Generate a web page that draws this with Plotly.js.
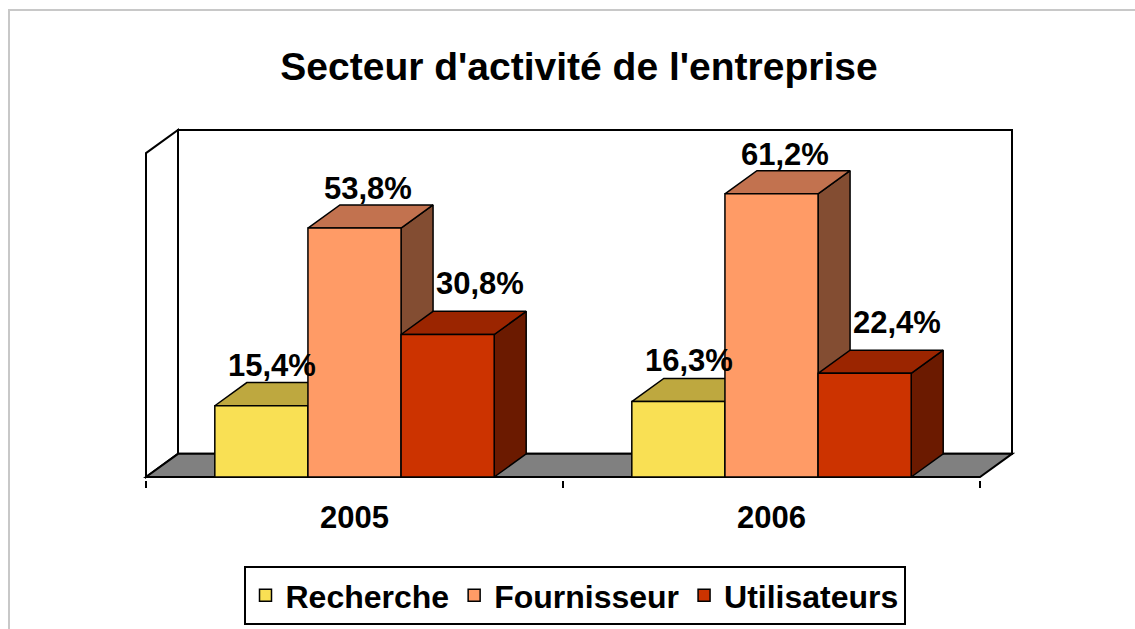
<!DOCTYPE html>
<html>
<head>
<meta charset="utf-8">
<script src="https://cdn.plot.ly/plotly-3.0.1.min.js"></script>
<style>
  html, body { margin: 0; padding: 0; overflow: hidden; background: #ffffff; }
  #chart { width: 1135px; height: 629px; }
  #frame { position: absolute; left: 8px; top: 9px; width: 1200px; height: 700px;
           border-left: 2px solid #c8c8c8; border-top: 2px solid #c8c8c8; pointer-events: none; }
</style>
</head>
<body>
<div id="chart"></div>
<div id="frame"></div>
<script>
// ---- data ----
const categories = ['2005', '2006'];
const seriesNames = ['Recherche', 'Fournisseur', 'Utilisateurs'];
const recherche = [15.4, 16.3];
const fournisseur = [53.8, 61.2];
const utilisateurs = [30.8, 22.4];
const chartTitle = "Secteur d'activité de l'entreprise";

// ---- styles ----
const seriesValues = [recherche, fournisseur, utilisateurs];
const frontColors = ['#F9E054', '#FF9B66', '#CC3300'];
const topColors   = ['#BEA83F', '#C2724F', '#9B2500'];
const sideColors  = ['#8C7A2E', '#834D32', '#6B1A00'];
const labelXShift = [-5, -3, 16];
const labelYShift = [-2, -3, 8];
const FONT = "'Liberation Sans', Arial, Helvetica, sans-serif";
const GAP = 0.33;
const YMAX = 70;
const DX = 64 / 834;   // depth, x units
const DY = 5;          // depth, y units
const PADX = 3 / 417, PADY = 3 / (347 / 75);

const nCat = categories.length, nSer = seriesNames.length;
const BW = (1 - GAP) / nSer;
const catPos = categories.map((c, i) => i + 0.5);
const xRange = [-PADX, nCat + DX + PADX];
const yRange = [-PADY, YMAX + DY + PADY];

const traces = [];
// 3D side and top faces (drawn under the front faces)
for (let j = 0; j < nSer; j++) {
  const sx = [], sy = [], tx = [], ty = [];
  for (let i = 0; i < nCat; i++) {
    const v = seriesValues[j][i];
    const x0 = catPos[i] - (1 - GAP) / 2 + j * BW, x1 = x0 + BW;
    sx.push(x1, x1 + DX, x1 + DX, x1, x1, null);
    sy.push(0, DY, v + DY, v, 0, null);
    tx.push(x0, x1, x1 + DX, x0 + DX, x0, null);
    ty.push(v, v, v + DY, v + DY, v, null);
  }
  traces.push({ type: 'scatter', mode: 'lines', x: sx, y: sy, fill: 'toself',
    fillcolor: sideColors[j], line: { color: '#000', width: 1.5 }, showlegend: false,
    hoverinfo: 'skip', xaxis: 'x', yaxis: 'y' });
  traces.push({ type: 'scatter', mode: 'lines', x: tx, y: ty, fill: 'toself',
    fillcolor: topColors[j], line: { color: '#000', width: 1.5 }, showlegend: false,
    hoverinfo: 'skip', xaxis: 'x', yaxis: 'y' });
}
// front faces as real bars on an overlaid subplot (drawn on top)
for (let j = 0; j < nSer; j++) {
  traces.push({ type: 'bar', name: seriesNames[j], x: catPos, y: seriesValues[j],
    marker: { color: frontColors[j], line: { color: '#000', width: 1.5 } },
    xaxis: 'x2', yaxis: 'y2', hoverinfo: 'skip' });
}

// data labels
const annotations = [];
for (let j = 0; j < nSer; j++) {
  for (let i = 0; i < nCat; i++) {
    const v = seriesValues[j][i];
    const xc = catPos[i] - (1 - GAP) / 2 + (j + 0.5) * BW + DX / 2;
    annotations.push({ x: xc, y: v + DY, xref: 'x2', yref: 'y2', showarrow: false,
      text: '<b>' + v.toFixed(1).replace('.', ',') + '%</b>',
      xanchor: 'center', yanchor: 'bottom', xshift: labelXShift[j], yshift: labelYShift[j],
      font: { family: FONT, size: 31, color: '#000' } });
  }
}

// walls and floor
const shapes = [
  { type: 'path', xref: 'x', yref: 'y', layer: 'below',
    path: `M ${DX},${DY} L ${nCat + DX},${DY} L ${nCat + DX},${YMAX + DY} L ${DX},${YMAX + DY} Z`,
    fillcolor: '#ffffff', line: { color: '#000', width: 2 } },
  { type: 'path', xref: 'x', yref: 'y', layer: 'below',
    path: `M 0,0 L 0,${YMAX} L ${DX},${YMAX + DY} L ${DX},${DY} Z`,
    fillcolor: '#ffffff', line: { color: '#000', width: 2 } },
  { type: 'path', xref: 'x', yref: 'y', layer: 'below',
    path: `M 0,0 L ${nCat},0 L ${nCat + DX},${DY} L ${DX},${DY} Z`,
    fillcolor: '#808080', line: { color: '#000', width: 2 } }
];

const layout = {
  width: 1135, height: 629,
  margin: { l: 143, r: 120, t: 127, b: 149, pad: 0, autoexpand: false },
  paper_bgcolor: '#ffffff', plot_bgcolor: 'rgba(0,0,0,0)',
  font: { family: FONT, color: '#000' },
  title: { text: '<b>' + chartTitle + '</b>', font: { family: FONT, size: 39, color: '#000' },
    x: 0.5, xref: 'paper', xanchor: 'center', y: 1 - 66 / 629, yref: 'container', yanchor: 'middle' },
  barmode: 'group', bargap: GAP, bargroupgap: 0,
  xaxis: { range: xRange, showgrid: false, zeroline: false, showline: false, automargin: false,
    tickmode: 'array', tickvals: catPos, ticktext: categories.map(c => '<b>' + c + '</b>'),
    ticks: '', ticklabelstandoff: 16, tickfont: { family: FONT, size: 31, color: '#000' },
    minor: { tickmode: 'array', tickvals: categories.map((c, i) => i).concat([nCat]),
      ticks: 'outside', ticklen: 7, tickwidth: 1.5, tickcolor: '#000', showgrid: false },
    fixedrange: true },
  yaxis: { range: yRange, visible: false, showgrid: false, zeroline: false, fixedrange: true },
  xaxis2: { range: xRange, overlaying: 'x', anchor: 'y2', visible: false, fixedrange: true },
  yaxis2: { range: yRange, overlaying: 'y', anchor: 'x2', visible: false, fixedrange: true },
  showlegend: true,
  legend: { orientation: 'h', xref: 'container', yref: 'container',
    x: 574.5 / 1135, xanchor: 'center', y: 1 - 566 / 629, yanchor: 'top',
    bordercolor: '#000', borderwidth: 2, bgcolor: '#ffffff',
    font: { family: FONT, size: 32, color: '#000', weight: 'bold' }, itemclick: false, itemdoubleclick: false },
  annotations: annotations,
  shapes: shapes,
  hovermode: false
};

Plotly.newPlot('chart', traces, layout, { displayModeBar: false, staticPlot: true });
</script>
</body>
</html>
